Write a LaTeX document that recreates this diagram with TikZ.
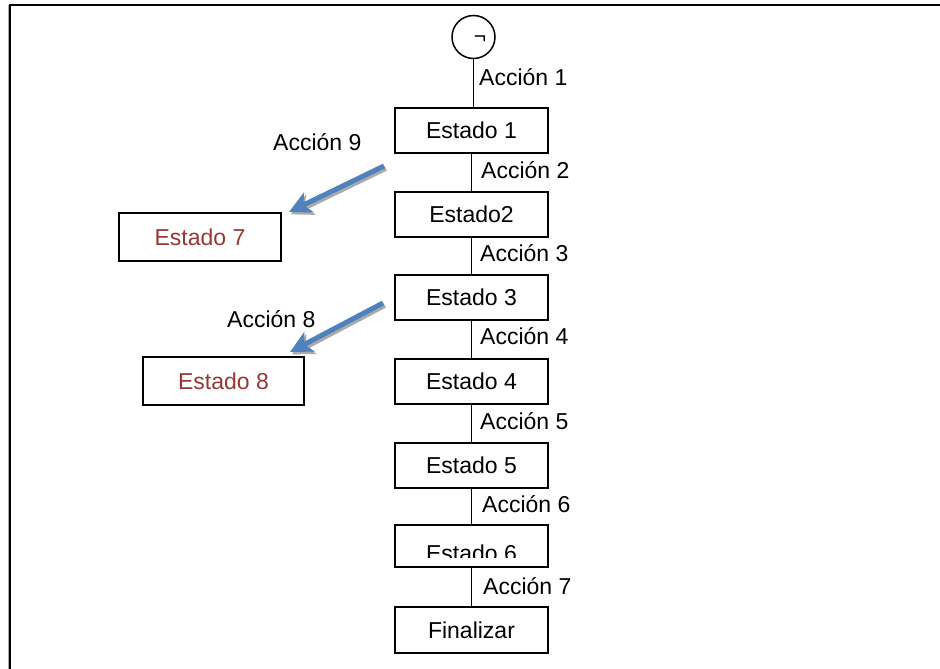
\documentclass[tikz,border=0pt]{standalone}
\usepackage{fontspec}
\setmainfont{Liberation Sans}
\usetikzlibrary{arrows.meta}
\definecolor{statered}{RGB}{150,55,53}
\definecolor{arrowblue}{RGB}{79,129,189}
\definecolor{shadowgray}{RGB}{170,170,170}
\tikzset{
  txt/.style={font=\fontsize{23}{27}\selectfont, inner sep=0pt},
  statebox/.style={draw=black, line width=1.4pt, minimum width=153pt, minimum height=45pt,
    inner sep=0pt, font=\fontsize{23}{27}\selectfont},
  sidebox/.style={statebox, text=statered, minimum width=162pt, minimum height=48pt},
  flow/.style={draw=black, line width=1.2pt},
  jumptip/.style={-{Stealth[length=22pt,width=22pt,inset=6pt]}},
  jump/.style={draw=arrowblue, line width=5pt, jumptip},
  jumpshadow/.style={draw=shadowgray, line width=5pt, jumptip},
}
\begin{document}
\begin{tikzpicture}[x=1pt,y=-1pt]
\useasboundingbox (0,0) rectangle (940,669);

% frame: top and left edges
\draw[shadowgray, line width=1.2pt] (8.6,5) -- (8.6,669);
\draw[black, line width=1.6pt] (10.2,5) -- (10.2,669);
\draw[black, line width=2.2pt] (9.4,5) -- (940,5);

% start node
\node[draw=black, line width=1.5pt, circle, minimum size=43pt, inner sep=0pt] (start) at (473.5,37) {};
\node[txt, font=\fontsize{21}{23}\selectfont] (neg) at (480,40) {¬};

% main chain of states
\node[statebox] (e1) at (471.5,130.5) {Estado 1};
\node[statebox] (e2) at (471.5,214.5) {Estado2};
\node[statebox] (e3) at (471.5,297.5) {Estado 3};
\node[statebox] (e4) at (471.5,381.5) {Estado 4};
\node[statebox] (e5) at (471.5,465.5) {Estado 5};
\begin{scope}
  \clip (396,528) rectangle (547,557.5);
  \node[txt] (e6t) at (471.5,553) {Estado 6};
\end{scope}
\node[statebox, minimum height=42pt] (e6) at (471.5,546) {};
\node[statebox, minimum height=46pt] (fin) at (471.5,630) {Finalizar};

% side states
\node[sidebox] (e7) at (200,237) {Estado 7};
\node[sidebox, minimum width=161pt] (e8) at (223.5,381) {Estado 8};

% vertical connectors
\draw[flow] (start.south) -- (start.south |- e1.north);
\draw[flow] (e1) -- (e2);
\draw[flow] (e2) -- (e3);
\draw[flow] (e3) -- (e4);
\draw[flow] (e4) -- (e5);
\draw[flow] (e5) -- (e6);
\draw[flow] (e6) -- (fin);

% action labels
\node[txt, anchor=base west] (a1) at (479,85) {Acción 1};
\node[txt, anchor=base west] (a2) at (481,178) {Acción 2};
\node[txt, anchor=base west] (a3) at (480,261) {Acción 3};
\node[txt, anchor=base west] (a4) at (480,344) {Acción 4};
\node[txt, anchor=base west] (a5) at (480,429) {Acción 5};
\node[txt, anchor=base west] (a6) at (482,512) {Acción 6};
\node[txt, anchor=base west] (a7) at (483,594) {Acción 7};
\node[txt, anchor=base west] (a9) at (273,150) {Acción 9};
\node[txt, anchor=base west] (a8) at (227,327) {Acción 8};

% jump arrows to the side states
\coordinate (j9s) at (384,166);
\coordinate (j9e) at (289,212);
\coordinate (j8s) at (383,303);
\coordinate (j8e) at (290,352);
\draw[jumpshadow] ([shift={(1.8,2.4)}]j9s) -- ([shift={(1.8,2.4)}]j9e);
\draw[jump] (j9s) -- (j9e);
\draw[jumpshadow] ([shift={(1.8,2.4)}]j8s) -- ([shift={(1.8,2.4)}]j8e);
\draw[jump] (j8s) -- (j8e);
\end{tikzpicture}
\end{document}
